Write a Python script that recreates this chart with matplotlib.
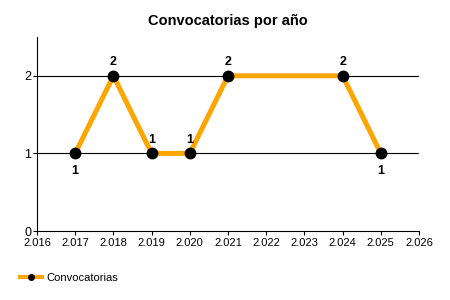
import matplotlib
matplotlib.use('Agg')
import matplotlib.pyplot as plt
from matplotlib.lines import Line2D
from matplotlib.ticker import FuncFormatter, MultipleLocator

plt.rcParams['font.family'] = ['Liberation Sans', 'DejaVu Sans']

years = [2017, 2018, 2019, 2020, 2021, 2024, 2025]
counts = [1, 2, 1, 1, 2, 2, 1]
label_pos = ['below', 'above', 'above', 'above', 'above', 'above', 'below']

fig = plt.figure(figsize=(4.5, 3), dpi=100)
ax = fig.add_axes([37/450, 1 - 231/300, (419-37)/450, (231-37)/300])

ax.plot(years, counts, color='#FFA500', lw=3.6, marker='o', ms=7.5,
        mfc='black', mec='black', zorder=3)

for x, y, p in zip(years, counts, label_pos):
    dy = 10 if p == 'above' else -13
    ax.annotate(str(y), (x, y), xytext=(0, dy), textcoords='offset points',
                ha='center', va='center', fontsize=9, fontweight='bold')

ax.set_xlim(2016, 2026)
ax.set_ylim(0, 2.5)
ax.xaxis.set_major_locator(MultipleLocator(1))
ax.yaxis.set_major_locator(MultipleLocator(1))
ax.xaxis.set_major_formatter(FuncFormatter(lambda v, p: f"{int(round(v)):,}".replace(',', '.')))
ax.tick_params(axis='x', labelsize=8, length=3, pad=2)
ax.tick_params(axis='y', labelsize=9, length=3, pad=1)
for y in [1, 2]:
    ax.axhline(y, color='black', lw=0.8, zorder=1)
ax.spines['top'].set_visible(False)
ax.spines['right'].set_visible(False)

ax.set_title('Convocatorias por año', fontsize=10.5, fontweight='bold', pad=9)

handle = Line2D([], [], color='#FFA500', lw=3, marker='o', ms=4, mfc='black', mec='black')
fig.legend([handle], ['Convocatorias'], loc='center left',
           bbox_to_anchor=(20/450, 1 - 278/300), frameon=False,
           fontsize=8, handlelength=2, handletextpad=0.4, borderaxespad=0, borderpad=0)

fig.savefig('out.png', dpi=100)
